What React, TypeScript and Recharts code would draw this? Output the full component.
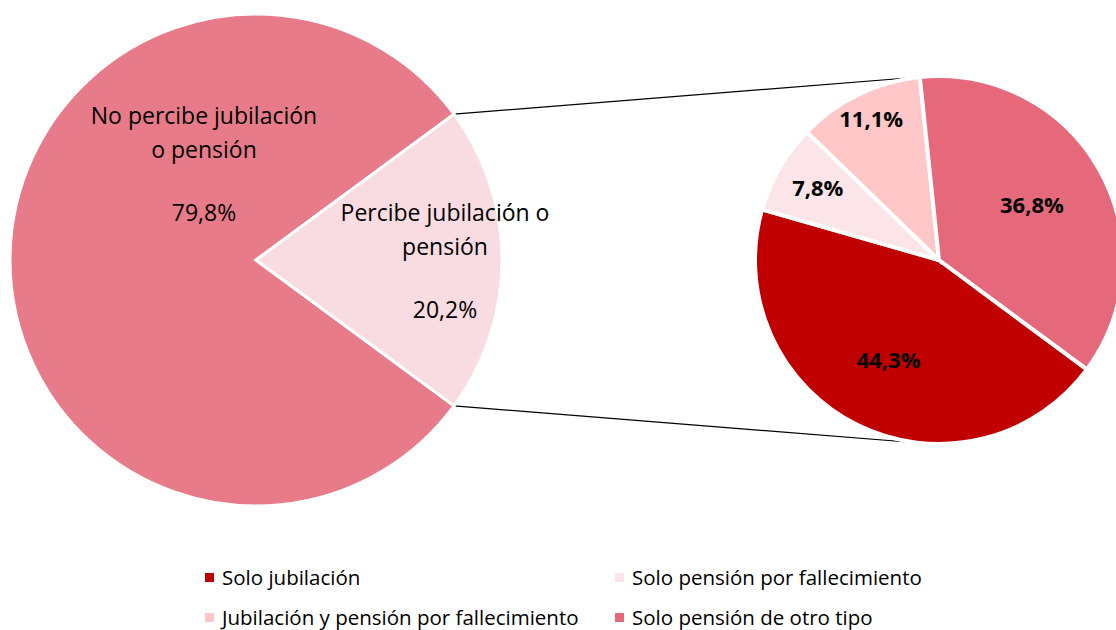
import { PieChart, Pie, Cell, Legend, Customized } from "recharts"

const W = 1116
const H = 630
const FONT = "'Open Sans', Lato, sans-serif"

// left pie
const mainNames = ["No percibe jubilación o pensión", "Percibe jubilación o pensión"]
const mainValues = [79.8, 20.2]
const mainLines = [["No percibe jubilación", "o pensión"], ["Percibe jubilación o", "pensión"]]
const mainColors = ["#E87B89", "#F9DCE1"]

// right pie
const subNames = [
  "Solo jubilación",
  "Solo pensión por fallecimiento",
  "Jubilación y pensión por fallecimiento",
  "Solo pensión de otro tipo",
]
const subValues = [44.3, 7.8, 11.1, 36.8]
const subColors = ["#C00000", "#FCE5E9", "#FFC7C7", "#E5697B"]

const mainData = mainNames.map((name, i) => ({ name, value: mainValues[i] }))
const subData = subNames.map((name, i) => ({ name, value: subValues[i] }))

// geometry
const L = { cx: 256, cy: 260, r: 246 }
const R = { cx: 939, cy: 260, r: 184 }
const half = (mainValues[1] / 100) * 180
const subStart = -36.5
const subTotal = subValues.reduce((a, b) => a + b, 0)
const subJoin = subStart + (subValues[3] / subTotal) * 360

// label placement (offsets from centre)
const mainLabelPos = [
  { dx: -52, dy: -142 },
  { dx: 189, dy: -45 },
]
const subLabelR = [114, 140, 155, 107]

const fmt = (v: number) => v.toFixed(1).replace(".", ",") + "%"
const RAD = Math.PI / 180

function mainLabel(props: any) {
  const { index } = props
  const p = mainLabelPos[index]
  const x = L.cx + p.dx
  const y = L.cy + p.dy
  return (
    <g key={"ml" + index}>
      {mainLines[index].map((t, k) => (
        <text key={k} x={x} y={y + k * 34} textAnchor="middle" dominantBaseline="middle" fontSize={23} fontFamily={FONT} fill="#000">
          {t}
        </text>
      ))}
      <text x={x} y={y + 97} textAnchor="middle" dominantBaseline="middle" fontSize={23} fontFamily={FONT} fill="#000">
        {fmt(mainValues[index])}
      </text>
    </g>
  )
}

function subLabel(props: any) {
  const { index, midAngle } = props
  const r = subLabelR[index]
  const x = R.cx + r * Math.cos(-midAngle * RAD)
  const y = R.cy + r * Math.sin(-midAngle * RAD)
  return (
    <text key={"sl" + index} x={x} y={y} textAnchor="middle" dominantBaseline="middle" fontSize={22} fontWeight={700} fontFamily={FONT} fill="#000">
      {fmt(subValues[index])}
    </text>
  )
}

function Connectors() {
  const pt = (c: { cx: number; cy: number; r: number }, a: number) => [c.cx + c.r * Math.cos(a * RAD), c.cy - c.r * Math.sin(a * RAD)]
  const [x1, y1] = pt(L, half)
  const [x2, y2] = pt(R, subJoin)
  const [x3, y3] = pt(L, -half)
  const [x4, y4] = pt(R, -subJoin)
  return (
    <g>
      <line x1={x1} y1={y1} x2={x2} y2={y2} stroke="#000" strokeWidth={1.2} />
      <line x1={x3} y1={y3} x2={x4} y2={y4} stroke="#000" strokeWidth={1.2} />
    </g>
  )
}

function LegendBox() {
  const cols = [205, 615]
  const rows = [577, 617]
  return (
    <div style={{ position: "relative", width: W, height: 70 }}>
      {subNames.map((n, i) => (
        <div
          key={n}
          style={{
            position: "absolute",
            left: cols[i % 2],
            top: rows[Math.floor(i / 2)] - 560 - 13,
            height: 26,
            display: "flex",
            alignItems: "center",
            fontFamily: FONT,
            fontSize: 20.5,
            color: "#000",
            whiteSpace: "nowrap",
          }}
        >
          <span style={{ width: 9, height: 9, background: subColors[i], display: "inline-block", marginRight: 8 }} />
          {n}
        </div>
      ))}
    </div>
  )
}

export default function App() {
  return (
    <div style={{ position: "absolute", left: 0, top: 0, width: W, height: H, background: "#fff" }}>
      <PieChart width={W} height={H} margin={{ top: 0, right: 0, bottom: 0, left: 0 }}>
        <Pie
          data={mainData}
          dataKey="value"
          cx={L.cx}
          cy={L.cy}
          outerRadius={L.r}
          startAngle={-half}
          endAngle={-half - 360}
          stroke="#fff"
          strokeWidth={3}
          label={mainLabel}
          labelLine={false}
          isAnimationActive={false}
        >
          {mainData.map((d, i) => (
            <Cell key={d.name} fill={mainColors[i]} />
          ))}
        </Pie>
        <Customized component={Connectors} />
        <Pie
          data={subData}
          dataKey="value"
          cx={R.cx}
          cy={R.cy}
          outerRadius={R.r}
          startAngle={subStart}
          endAngle={subStart - 360}
          stroke="#fff"
          strokeWidth={4}
          label={subLabel}
          labelLine={false}
          isAnimationActive={false}
        >
          {subData.map((d, i) => (
            <Cell key={d.name} fill={subColors[i]} />
          ))}
        </Pie>
        <Legend content={() => <LegendBox />} wrapperStyle={{ position: "absolute", left: 0, top: 560, width: W, height: 70 }} />
      </PieChart>
    </div>
  )
}
